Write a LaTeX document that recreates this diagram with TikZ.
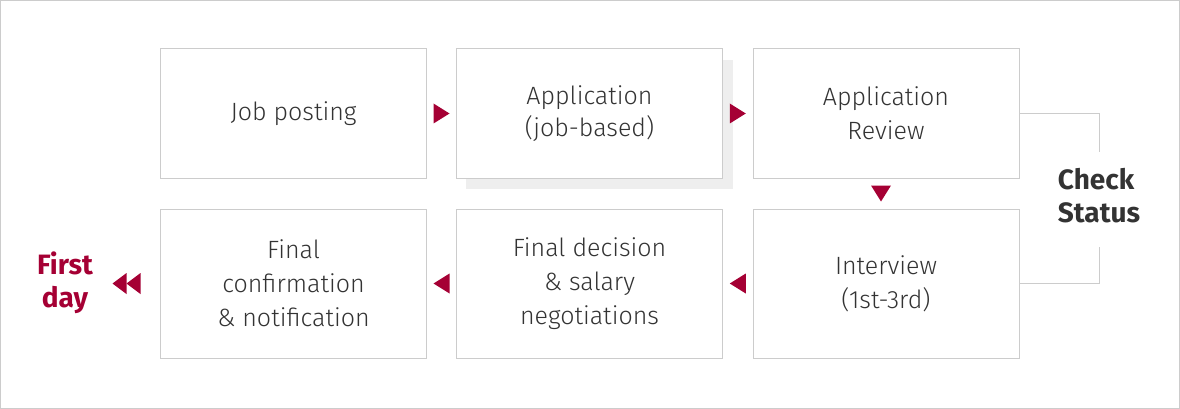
\documentclass[tikz,border=0pt]{standalone}
\usepackage{fontspec}
\setmainfont{Fira Sans}[UprightFont=* Light, BoldFont=* Bold]
\usetikzlibrary{calc}
\definecolor{lgred}{HTML}{A50034}
\definecolor{txt}{HTML}{333333}
\definecolor{edge}{HTML}{CCCCCC}
\definecolor{shadowgray}{HTML}{EEEEEE}
\tikzset{
  stepbox/.style={draw=edge, line width=1pt, fill=white, minimum width=266pt, outer sep=0pt, inner sep=0pt, align=center, text=txt, font=\fontsize{25}{34}\selectfont},
  toprow/.style={stepbox, minimum height=129pt},
  botrow/.style={stepbox, minimum height=149pt},
  bracket/.style={draw=edge, line width=1pt},
  arrowfill/.style={fill=lgred}
}
\begin{document}
\begin{tikzpicture}[x=1pt,y=-1pt]
\useasboundingbox (0,0) rectangle (1180,409);
\draw[edge, line width=1pt] (0.5,0.5) rectangle (1179.5,408.5);
% shadow
\fill[shadowgray] (466,60) rectangle (733,189);
% boxes
\node[toprow] (job) at (293.5,113.5) {Job posting};
\node[toprow, font=\fontsize{25}{32}\selectfont] (app) at (589.5,113.5) {Application\\(job-based)};
\node[toprow] (rev) at (886,113.5) {Application\\Review};
\node[botrow] (fin) at (293.5,283.5) {Final\\confirmation\\\& notification};
\node[botrow] (dec) at (589.5,283.5) {Final decision\\\& salary\\negotiations};
\node[botrow] (int) at (886,283.5) {Interview\\(1st-3rd)};
% check status
\node[text=txt, align=left, inner sep=0pt, font=\bfseries\fontsize{28}{33}\selectfont] (cs) at (1099,196) {Check\\Status};
\draw[bracket] (rev.east) -| ($(cs.center)+(0,-44)$);
\draw[bracket] (int.east) -| ($(cs.center)+(0,51)$);
% first day
\node[text=lgred, align=center, inner sep=0pt, font=\bfseries\fontsize{28}{33}\selectfont] (fd) at (65,283) {First\\day};
% arrows
\coordinate (g1) at ($(job.east)!0.5!(app.west)$);
\coordinate (g2) at ($(app.east)!0.5!(rev.west)$);
\coordinate (g3) at ($(rev.south)!0.5!(int.north)+(-5,0)$);
\coordinate (g4) at ($(dec.east)!0.5!(int.west)$);
\coordinate (g5) at ($(fin.east)!0.5!(dec.west)$);
\coordinate (g6) at ($(fin.west)+(-34,0)$);
\fill[arrowfill] (g1) ++(-8,-10) -- ++(16,10) -- ++(-16,10) -- cycle;
\fill[arrowfill] (g2) ++(-8,-10) -- ++(16,10) -- ++(-16,10) -- cycle;
\fill[arrowfill] (g3) ++(-10,-8) -- ++(20,0) -- ++(-10,16) -- cycle;
\fill[arrowfill] (g4) ++(8,-10) -- ++(-16,10) -- ++(16,10) -- cycle;
\fill[arrowfill] (g5) ++(8,-10) -- ++(-16,10) -- ++(16,10) -- cycle;
\fill[arrowfill] (g6) ++(0,-10.5) -- ++(-14,10.5) -- ++(14,10.5) -- cycle;
\fill[arrowfill] (g6) ++(14,-10.5) -- ++(-14,10.5) -- ++(14,10.5) -- cycle;
\end{tikzpicture}
\end{document}
